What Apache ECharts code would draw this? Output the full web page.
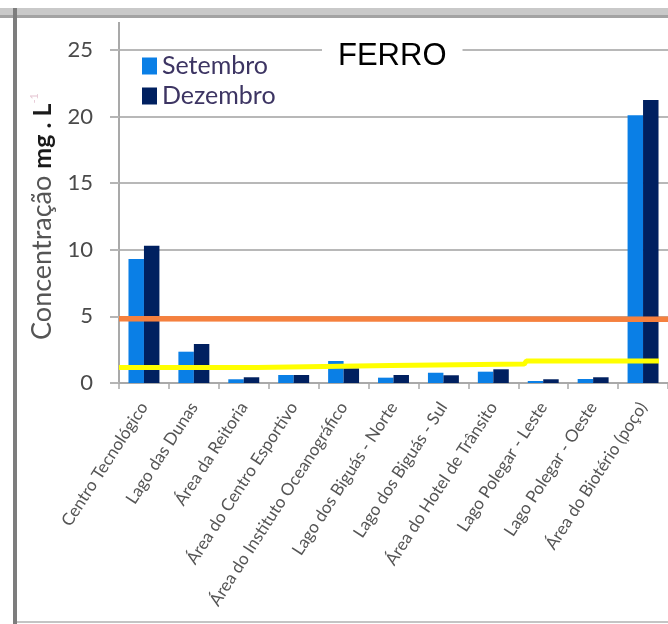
<!DOCTYPE html>
<html>
<head>
<meta charset="utf-8">
<script src="https://cdn.jsdelivr.net/npm/echarts@6/dist/echarts.min.js"></script>
<style>
  html, body { margin: 0; padding: 0; background: #fff; }
  #chart { width: 668px; height: 624px; }
</style>
</head>
<body>
<div id="chart"></div>
<script>
// Sampling sites
const sites = [
  'Centro Tecnológico',
  'Lago das Dunas',
  'Área da Reitoria',
  'Área do Centro Esportivo',
  'Área do Instituto Oceanográfico',
  'Lago dos Biguás - Norte',
  'Lago dos Biguás - Sul',
  'Área do Hotel de Trânsito',
  'Lago Polegar - Leste',
  'Lago Polegar - Oeste',
  'Área do Biotério (poço)'
];

// Iron concentration (mg/L) per campaign
const setembro = [9.3, 2.35, 0.28, 0.6, 1.65, 0.4, 0.77, 0.85, 0.15, 0.3, 20.1];
const dezembro = [10.3, 2.93, 0.43, 0.6, 1.1, 0.6, 0.58, 1.03, 0.28, 0.43, 21.25];

// Reference limits, as [position along the site axis, mg/L]
const orangeLimit = [[0, 4.82], [11, 4.78]];
const yellowLimit = [
  [0, 1.17], [2.76, 1.17], [2.8, 1.32], [5.44, 1.32],
  [5.48, 1.42], [8.12, 1.42], [8.16, 1.65], [10.82, 1.65]
];

const yTicks = { min: 0, max: 25, interval: 5 };

const chart = echarts.init(document.getElementById('chart'));
const uiFont = 'Lato';

chart.setOption({
  animation: false,
  backgroundColor: '#ffffff',
  title: {
    text: 'FERRO',
    left: 322,
    top: 38,
    padding: [3, 16],
    backgroundColor: '#ffffff',
    textStyle: { fontFamily: 'Liberation Sans', fontSize: 31, fontWeight: 'normal', color: '#000' }
  },
  legend: {
    orient: 'vertical',
    left: 142,
    top: 51,
    itemWidth: 15,
    itemHeight: 17,
    itemGap: 0,
    icon: 'rect',
    selectedMode: false,
    padding: 0,
    textStyle: { fontFamily: uiFont, fontSize: 25, lineHeight: 30, color: '#3d3563' },
    data: ['Setembro', 'Dezembro']
  },
  grid: { left: 119, right: -1, top: 50, bottom: 241, containLabel: false },
  xAxis: [
    {
      type: 'category',
      data: sites,
      boundaryGap: true,
      axisLine: { lineStyle: { color: '#a9a9a9', width: 2 } },
      axisTick: { show: true, length: 6, lineStyle: { color: '#a9a9a9', width: 1.5 } },
      axisLabel: {
        interval: 0,
        rotate: 57,
        margin: 21,
        fontFamily: uiFont,
        fontSize: 17,
        color: '#555555'
      }
    },
    { type: 'value', min: 0, max: 11, show: false }
  ],
  yAxis: {
    type: 'value',
    min: yTicks.min,
    max: yTicks.max,
    interval: yTicks.interval,
    name: '{a|Concentração }{b|mg . L}{c|-1}',
    nameLocation: 'middle',
    nameRotate: 90,
    nameGap: 63,
    nameTextStyle: {
      rich: {
        a: { fontFamily: uiFont, fontSize: 27, color: '#555555' },
        b: { fontFamily: uiFont, fontSize: 25, fontWeight: 'bold', color: '#1a1a1a' },
        c: { fontFamily: uiFont, fontSize: 11, color: '#e6c8d4', verticalAlign: 'top' }
      }
    },
    axisLine: { show: true, lineStyle: { color: '#a9a9a9', width: 2 } },
    axisTick: { show: true, length: 9, lineStyle: { color: '#b5b5b5', width: 2 } },
    axisLabel: { margin: 26, fontFamily: uiFont, fontSize: 22, color: '#4a4a4a' },
    splitLine: { lineStyle: { color: '#b8b8b8', width: 2 } }
  },
  graphic: [
    // frame: grey band along the top, rule down the left, thin line at the bottom
    { type: 'rect', shape: { x: 0, y: 8, width: 668, height: 7 }, style: { fill: '#c9c9c9' }, z: 0 },
    { type: 'rect', shape: { x: 0, y: 15, width: 668, height: 3 }, style: { fill: '#a3a3a3' }, z: 0 },
    { type: 'rect', shape: { x: 13, y: 8, width: 4, height: 616 }, style: { fill: '#7d7d7d' }, z: 0 },
    { type: 'rect', shape: { x: 17, y: 621, width: 651, height: 2 }, style: { fill: '#c4c4c4' }, z: 0 },
    // value axis rule continues up to the frame
    { type: 'line', shape: { x1: 119, y1: 22, x2: 119, y2: 50 }, style: { stroke: '#a9a9a9', lineWidth: 2 }, z: 0 }
  ],
  series: [
    {
      name: 'Setembro',
      type: 'bar',
      data: setembro,
      barGap: '0%',
      barCategoryGap: '38%',
      itemStyle: { color: '#0a7fe6' },
      z: 2
    },
    {
      name: 'Dezembro',
      type: 'bar',
      data: dezembro,
      barGap: '0%',
      barCategoryGap: '38%',
      itemStyle: { color: '#002060' },
      z: 2
    },
    {
      type: 'line',
      xAxisIndex: 1,
      data: orangeLimit,
      showSymbol: false,
      lineStyle: { color: '#f5803e', width: 5.5 },
      z: 3
    },
    {
      type: 'line',
      xAxisIndex: 1,
      data: yellowLimit,
      showSymbol: false,
      lineStyle: { color: '#ffff00', width: 5 },
      z: 3
    }
  ]
});
</script>
</body>
</html>
